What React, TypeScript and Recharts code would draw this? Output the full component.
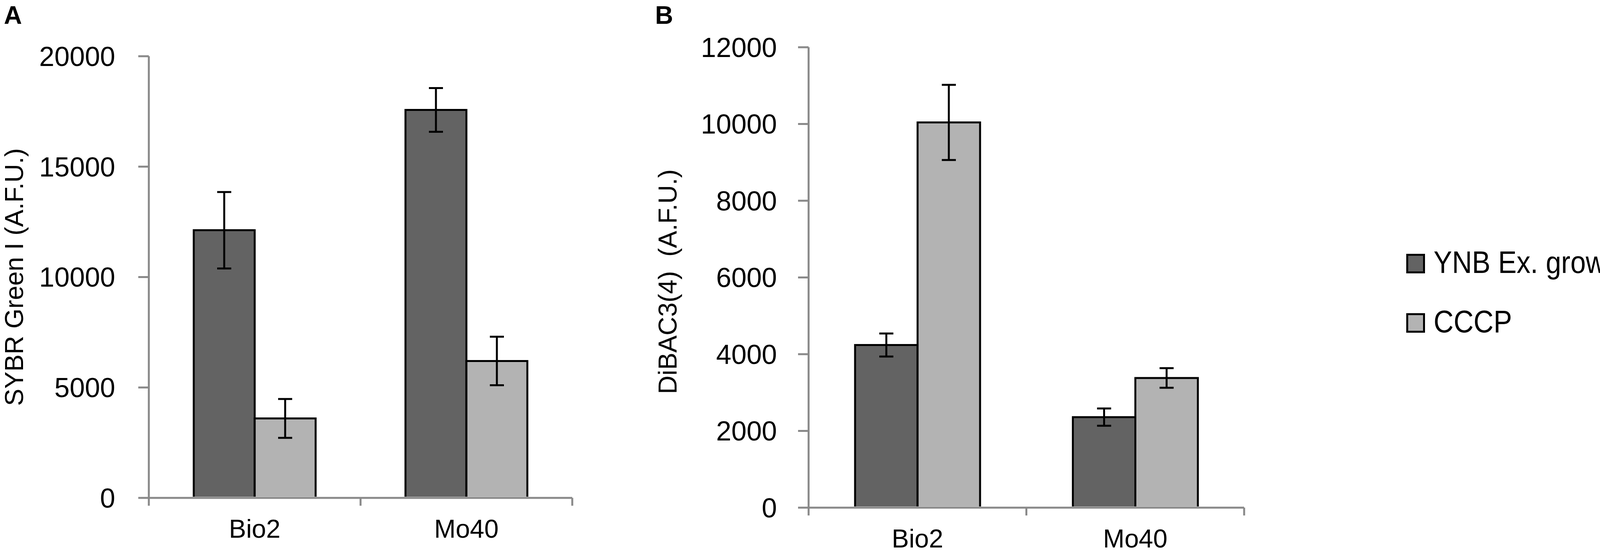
import React from 'react';
import { BarChart, Bar, XAxis, YAxis, ErrorBar, Legend } from 'recharts';

const categories = ['Bio2', 'Mo40'];
const seriesNames = ['YNB Ex. growth', 'CCCP'];

// panel A: SYBR Green I
const sybrYnb = [12120, 17570];
const sybrYnbErr = [1730, 990];
const sybrCccp = [3600, 6200];
const sybrCccpErr = [880, 1100];
const sybrTicks = [0, 5000, 10000, 15000, 20000];

// panel B: DiBAC3(4)
const dibacYnb = [4240, 2360];
const dibacYnbErr = [300, 225];
const dibacCccp = [10040, 3380];
const dibacCccpErr = [980, 255];
const dibacTicks = [0, 2000, 4000, 6000, 8000, 10000, 12000];

const DARK = '#636363';
const LIGHT = '#b3b3b3';
const AXIS = '#898989';
const FONT = '"Liberation Sans", Arial, sans-serif';
const X_TICK_GAP = 55;

const buildRows = (ynb: number[], ynbErr: number[], cccp: number[], cccpErr: number[]) =>
  categories.map((name, i) => ({
    name,
    ynb: ynb[i],
    ynbErr: ynbErr[i],
    cccp: cccp[i],
    cccpErr: cccpErr[i],
  }));

const sybrData = buildRows(sybrYnb, sybrYnbErr, sybrCccp, sybrCccpErr);
const dibacData = buildRows(dibacYnb, dibacYnbErr, dibacCccp, dibacCccpErr);

// bar outlined on three sides so the grey axis stays visible underneath
const OpenBar = (props: any) => {
  const { x, y, width, height, fill } = props;
  if (!height || height <= 0) return null;
  const bottom = y + height - 3;
  return (
    <g>
      <rect x={x} y={y} width={width} height={height - 3} fill={fill} />
      <path
        d={`M${x},${bottom} L${x},${y} L${x + width},${y} L${x + width},${bottom}`}
        fill="none"
        stroke="#000"
        strokeWidth={5}
      />
    </g>
  );
};

// category label at the centre, tick marks at the category boundaries
const CategoryTick = (props: any) => {
  const { x, y, payload, index, visibleTicksCount, width } = props;
  const half = payload.offset || width / (2 * visibleTicksCount);
  const base = y - X_TICK_GAP;
  return (
    <g>
      <line x1={x - half} x2={x - half} y1={base} y2={base + 20} stroke={AXIS} strokeWidth={5} />
      {index === visibleTicksCount - 1 && (
        <line x1={x + half} x2={x + half} y1={base} y2={base + 20} stroke={AXIS} strokeWidth={5} />
      )}
      <text x={x} y={y} dy="0.71em" textAnchor="middle" fill="#000" fontSize={66} fontFamily={FONT}>
        {payload.value}
      </text>
    </g>
  );
};

const axisTitle = (text: string, cx: number, shiftY: number) => (props: any) => {
  const vb = props.viewBox || {};
  const px = (vb.x || 0) + cx;
  const py = (vb.y || 0) + (vb.height || 0) / 2 + shiftY;
  return (
    <text
      x={px}
      y={py}
      transform={`rotate(-90 ${px} ${py})`}
      textAnchor="middle"
      dominantBaseline="central"
      fill="#000"
      fontSize={66}
      fontFamily={FONT}
      style={{ whiteSpace: 'pre' }}
    >
      {text}
    </text>
  );
};

const LegendBox = ({ payload }: any) => {
  const items = [...(payload || [])].sort(
    (a: any, b: any) => seriesNames.indexOf(a.value) - seriesNames.indexOf(b.value)
  );
  return (
    <div style={{ position: 'relative', width: 570, height: 300 }}>
      {items.map((entry: any, i: number) => (
        <div key={entry.value}>
          <div
            style={{
              position: 'absolute',
              left: 0,
              top: 50 + i * 152,
              width: 38,
              height: 40,
              background: entry.color,
              border: '5px solid #000',
            }}
          />
          <div
            style={{
              position: 'absolute',
              left: 70,
              top: 32 + i * 152,
              fontSize: 80,
              lineHeight: '80px',
              fontFamily: FONT,
              color: '#000',
              whiteSpace: 'nowrap',
              transform: 'scaleX(0.885)',
              transformOrigin: 'left top',
            }}
          >
            {entry.value}
          </div>
        </div>
      ))}
    </div>
  );
};

const panelLetter = (left: number): React.CSSProperties => ({
  position: 'absolute',
  left,
  top: 7,
  fontFamily: FONT,
  fontWeight: 'bold',
  fontSize: 64,
  lineHeight: '64px',
  color: '#000',
});

export default function App() {
  return (
    <div style={{ position: 'absolute', left: 0, top: 0, width: 4184, height: 1411, background: '#fff', overflow: 'hidden' }}>
      <div style={panelLetter(10)}>A</div>
      <div style={panelLetter(1677)}>B</div>

      <div style={{ position: 'absolute', left: 0, top: 0 }}>
        <BarChart
          width={1500}
          height={1411}
          data={sybrData}
          barGap={0}
          margin={{ top: 144, right: 35, left: 0, bottom: 36 }}
        >
          <XAxis
            dataKey="name"
            height={100}
            interval={0}
            axisLine={{ stroke: AXIS, strokeWidth: 5 }}
            tickLine={false}
            tickSize={0}
            tickMargin={X_TICK_GAP}
            tick={<CategoryTick />}
          />
          <YAxis
            width={381}
            domain={[0, 20000]}
            ticks={sybrTicks}
            interval={0}
            axisLine={{ stroke: AXIS, strokeWidth: 5 }}
            tickLine={{ stroke: AXIS, strokeWidth: 5 }}
            tickSize={27}
            tickMargin={59}
            tick={{ fill: '#000', fontSize: 70, fontFamily: FONT }}
            label={axisTitle('SYBR Green I (A.F.U.)', 36, 0)}
          />
          <Bar dataKey="ynb" name={seriesNames[0]} fill={DARK} barSize={156} shape={<OpenBar />} isAnimationActive={false}>
            <ErrorBar dataKey="ynbErr" width={18} stroke="#000" strokeWidth={5} isAnimationActive={false} />
          </Bar>
          <Bar dataKey="cccp" name={seriesNames[1]} fill={LIGHT} barSize={156} shape={<OpenBar />} isAnimationActive={false}>
            <ErrorBar dataKey="cccpErr" width={18} stroke="#000" strokeWidth={5} isAnimationActive={false} />
          </Bar>
        </BarChart>
      </div>

      <div style={{ position: 'absolute', left: 1500, top: 0 }}>
        <BarChart
          width={2684}
          height={1411}
          data={dibacData}
          barGap={0}
          margin={{ top: 121, right: 999, left: 0, bottom: 11 }}
        >
          <XAxis
            dataKey="name"
            height={100}
            interval={0}
            axisLine={{ stroke: AXIS, strokeWidth: 5 }}
            tickLine={false}
            tickSize={0}
            tickMargin={X_TICK_GAP}
            tick={<CategoryTick />}
          />
          <YAxis
            width={570}
            domain={[0, 12000]}
            ticks={dibacTicks}
            interval={0}
            axisLine={{ stroke: AXIS, strokeWidth: 5 }}
            tickLine={{ stroke: AXIS, strokeWidth: 5 }}
            tickSize={27}
            tickMargin={54}
            tick={{ fill: '#000', fontSize: 70, fontFamily: FONT }}
            label={axisTitle('DiBAC3(4)  (A.F.U.)', 209, 11)}
          />
          <Legend
            layout="vertical"
            align="center"
            verticalAlign="middle"
            wrapperStyle={{ left: 2100, top: 600, width: 570, height: 300 }}
            content={<LegendBox />}
          />
          <Bar dataKey="ynb" name={seriesNames[0]} fill={DARK} barSize={160} shape={<OpenBar />} isAnimationActive={false}>
            <ErrorBar dataKey="ynbErr" width={18} stroke="#000" strokeWidth={5} isAnimationActive={false} />
          </Bar>
          <Bar dataKey="cccp" name={seriesNames[1]} fill={LIGHT} barSize={160} shape={<OpenBar />} isAnimationActive={false}>
            <ErrorBar dataKey="cccpErr" width={18} stroke="#000" strokeWidth={5} isAnimationActive={false} />
          </Bar>
        </BarChart>
      </div>
    </div>
  );
}
